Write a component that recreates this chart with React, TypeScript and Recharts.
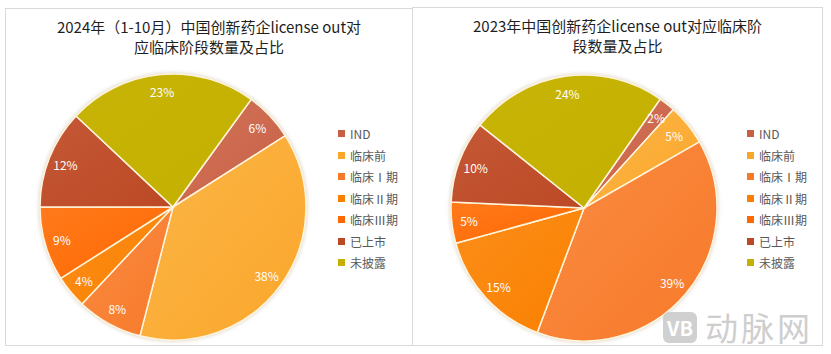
import { PieChart, Pie, Cell, Legend } from 'recharts'

const categories = ['IND', '临床前', '临床Ⅰ期', '临床Ⅱ期', '临床Ⅲ期', '已上市', '未披露']
const colors = ['#C75F45', '#FAA62A', '#F7792A', '#FA8000', '#FF6800', '#BC4926', '#C4B000']
const lightColors = ['#D37559', '#FCB648', '#FA8C42', '#FC8E1A', '#FF7A1C', '#C55835', '#C8B406']

const values2024 = [6, 38, 8, 4, 9, 12, 23]
const values2023 = [2, 5, 39, 15, 5, 10, 24]

const title2024 = ['2024年（1-10月）中国创新药企license out对', '应临床阶段数量及占比']
const title2023 = ['2023年中国创新药企license out对应临床阶', '段数量及占比']

const FONT = '"Microsoft YaHei", "Noto Sans CJK SC", "Noto Sans", sans-serif'

const renderLabel = (p: any) => {
  const RAD = Math.PI / 180
  const r = p.outerRadius * 0.87
  const x = p.cx + r * Math.cos(-p.midAngle * RAD)
  const y = p.cy + r * Math.sin(-p.midAngle * RAD)
  return (
    <text x={x} y={y} fill="#fff" fontSize={12} fontFamily={FONT} textAnchor="middle" dominantBaseline="central">
      {`${p.value}%`}
    </text>
  )
}

function LegendList() {
  return (
    <div style={{ fontFamily: FONT, fontSize: 12, color: '#595959' }}>
      {categories.map((c, i) => (
        <div key={c} style={{ height: 21.5, display: 'flex', alignItems: 'center' }}>
          <span style={{ width: 7, height: 7, background: colors[i], display: 'inline-block', marginRight: 5 }} />
          <span>{c}</span>
        </div>
      ))}
    </div>
  )
}

interface PanelProps {
  id: string
  title: string[]
  values: number[]
  left: number
  top: number
  width: number
  height: number
  cx: number
  cy: number
  startAngle: number
  legendLeft: number
  legendTop: number
}

function Panel({ id, title, values, left, top, width, height, cx, cy, startAngle, legendLeft, legendTop }: PanelProps) {
  const data = categories.map((name, i) => ({ name, value: values[i] }))
  return (
    <div style={{ position: 'absolute', left, top, width, height, border: '1px solid #d9d9d9', boxSizing: 'border-box', background: '#fff' }}>
      <div style={{ position: 'absolute', left: 0, top: 8, width: '100%', textAlign: 'center', fontFamily: FONT, fontSize: 15, lineHeight: '20px', color: '#1f1f1f' }}>
        {title.map(t => <div key={t} style={{ height: 20 }}>{t}</div>)}
      </div>
      <div style={{ position: 'absolute', left: 0, top: 0 }}>
        <PieChart width={width - 2} height={height - 2}>
          <defs>
            {colors.map((c, i) => (
              <linearGradient key={c} id={`${id}-g${i}`} x1="0" y1="0" x2="1" y2="1">
                <stop offset="0%" stopColor={lightColors[i]} />
                <stop offset="100%" stopColor={c} />
              </linearGradient>
            ))}
          </defs>
          <Pie
            data={data}
            dataKey="value"
            nameKey="name"
            cx={cx}
            cy={cy}
            outerRadius={133}
            startAngle={startAngle}
            endAngle={startAngle - 360}
            stroke="#FFF5DC"
            strokeWidth={1.5}
            label={renderLabel}
            labelLine={false}
            isAnimationActive={false}
          >
            {data.map((d, i) => <Cell key={d.name} fill={`url(#${id}-g${i})`} />)}
          </Pie>
          <Legend content={() => <LegendList />} wrapperStyle={{ position: 'absolute', left: legendLeft, top: legendTop, width: 80 }} />
        </PieChart>
      </div>
    </div>
  )
}

export default function App() {
  return (
    <div style={{ position: 'absolute', left: 0, top: 0, width: 831, height: 354, background: '#fff', overflow: 'hidden' }}>
      <style>{`body{margin:0}.recharts-pie{filter:drop-shadow(0 0 2px rgba(140,110,60,0.35))}`}</style>
      <Panel id="p24" title={title2024} values={values2024} left={5} top={8} width={408} height={338}
        cx={162} cy={193} startAngle={54} legendLeft={332} legendTop={114} />
      <Panel id="p23" title={title2023} values={values2023} left={412} top={7} width={411} height={339}
        cx={166} cy={195} startAngle={55} legendLeft={334} legendTop={115} />
      <div style={{ position: 'absolute', left: 663, top: 312, width: 34, height: 31, borderRadius: 6, background: 'rgba(200,200,200,0.85)', color: '#fff', fontFamily: FONT, fontWeight: 'bold', fontSize: 20, lineHeight: '31px', textAlign: 'center' }}>
        VB
      </div>
      <div style={{ position: 'absolute', left: 705, top: 308, fontFamily: FONT, fontSize: 33, lineHeight: '38px', letterSpacing: 3, color: 'rgba(200,200,200,0.9)' }}>
        动脉网
      </div>
    </div>
  )
}
